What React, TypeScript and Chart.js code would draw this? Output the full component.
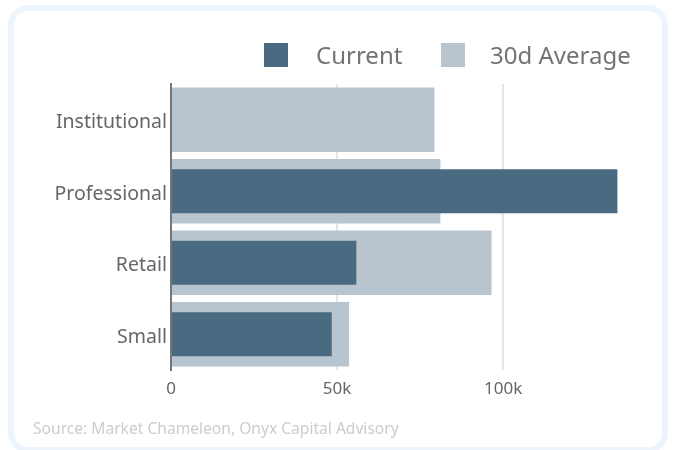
import React, { useEffect, useRef } from "react";
import { Chart, registerables } from "chart.js";

Chart.register(...registerables);

const categories = ["Institutional", "Professional", "Retail", "Small"];
const currentValues = [0, 134400, 55800, 48400];
const averageValues = [79300, 81100, 96500, 53600];
const seriesNames = ["Current", "30d Average"];
const xTickValues = [0, 50000, 100000];
const sourceText = "Source: Market Chameleon, Onyx Capital Advisory";

const FONT = "'Noto Sans', sans-serif";
const DARK = "#4a6a82";
const LIGHT = "#b8c4ce";

export default function App() {
  const ref = useRef<HTMLCanvasElement | null>(null);

  useEffect(() => {
    if (!ref.current) return;
    const chart = new Chart(ref.current, {
      type: "bar",
      data: {
        labels: categories,
        datasets: [
          {
            label: seriesNames[0],
            data: currentValues,
            backgroundColor: DARK,
            borderWidth: 0,
            grouped: false,
            categoryPercentage: 0.9,
            barPercentage: 0.68,
            order: 0,
          },
          {
            label: seriesNames[1],
            data: averageValues,
            backgroundColor: LIGHT,
            borderWidth: 0,
            grouped: false,
            categoryPercentage: 0.9,
            barPercentage: 1,
            order: 1,
          },
        ],
      },
      options: {
        indexAxis: "y",
        responsive: false,
        animation: false,
        layout: { padding: { top: 84, right: 40, bottom: 0, left: 0 } },
        plugins: { legend: { display: false }, tooltip: { enabled: false } },
        scales: {
          x: {
            min: 0,
            max: 140000,
            z: 1,
            afterFit: (s: any) => {
              s.height = 80;
            },
            afterBuildTicks: (s: any) => {
              s.ticks = xTickValues.map((v) => ({ value: v }));
            },
            ticks: {
              color: "#666",
              font: { family: FONT, size: 17 },
              padding: 9,
              callback: (v: any) => (Number(v) === 0 ? "0" : Number(v) / 1000 + "k"),
            },
            grid: { color: "rgba(0,0,0,0.1)", lineWidth: 2, drawTicks: false },
            border: { display: false },
          },
          y: {
            z: 1,
            afterFit: (s: any) => {
              s.width = 171;
            },
            ticks: {
              color: "#666",
              font: { family: FONT, size: 19.5 },
              padding: 4,
              labelOffset: 3,
            },
            grid: { display: false, drawTicks: false },
            border: { display: true, color: "#777", width: 2 },
          },
        },
      },
    });
    return () => chart.destroy();
  }, []);

  return (
    <div style={{ position: "absolute", left: 0, top: 0, width: 676, height: 450, overflow: "hidden", fontFamily: FONT }}>
      <div
        style={{
          position: "absolute",
          left: 8,
          top: 5,
          width: 660,
          height: 448,
          boxSizing: "border-box",
          border: "6px solid #eef4fc",
          borderRadius: 20,
          background: "#fff",
        }}
      />
      <canvas ref={ref} width={676} height={450} style={{ position: "absolute", left: 0, top: 0 }} />
      <div style={{ position: "absolute", left: 264, top: 43, width: 24, height: 24, background: DARK }} />
      <div style={{ position: "absolute", left: 316, top: 41, fontSize: 24, lineHeight: "28px", color: "#737373" }}>
        {seriesNames[0]}
      </div>
      <div style={{ position: "absolute", left: 441, top: 43, width: 24, height: 24, background: LIGHT }} />
      <div style={{ position: "absolute", left: 490, top: 41, fontSize: 24, lineHeight: "28px", color: "#737373" }}>
        {seriesNames[1]}
      </div>
      <div style={{ position: "absolute", left: 33, top: 418, fontSize: 15.6, lineHeight: "20px", color: "#cccccc", whiteSpace: "nowrap" }}>
        {sourceText}
      </div>
    </div>
  );
}
